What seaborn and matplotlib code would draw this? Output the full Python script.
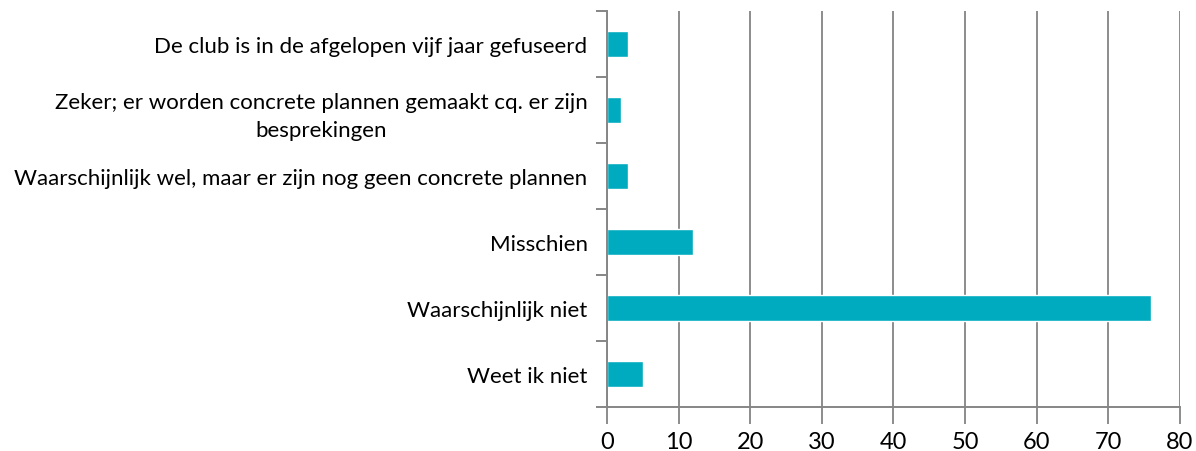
import numpy as np
import matplotlib.pyplot as plt
import seaborn as sns
import pandas as pd

categories = [
    'De club is in de afgelopen vijf jaar gefuseerd',
    'Zeker; er worden concrete plannen gemaakt cq. er zijn\nbesprekingen',
    'Waarschijnlijk wel, maar er zijn nog geen concrete plannen',
    'Misschien',
    'Waarschijnlijk niet',
    'Weet ik niet',
]
values = [3, 2, 3, 12, 76, 5]
x_ticks = [0, 10, 20, 30, 40, 50, 60, 70, 80]

sns.set_style('white')
plt.rcParams['font.family'] = ['Lato', 'DejaVu Sans']
plt.rcParams['text.color'] = 'black'
plt.rcParams['xtick.labelcolor'] = 'black'
plt.rcParams['ytick.labelcolor'] = 'black'

df = pd.DataFrame({'category': categories, 'value': values})

fig = plt.figure(figsize=(11.96, 4.52), dpi=100)
ax = fig.add_axes([0.5075, 0.0973, 0.4791, 0.8757])

sns.barplot(data=df, x='value', y='category', color='#00ABBF', saturation=1,
            width=0.4, ax=ax)

ax.set_xlim(0, 80)
ax.set_ylim(len(categories) - 0.5, -0.5)
ax.set_xticks(x_ticks)
ax.set_xlabel('')
ax.set_ylabel('')

# vertical gridlines
ax.grid(axis='x', color='#8c8c8c', linewidth=1.4)
ax.set_axisbelow(True)

for side in ['top', 'right']:
    ax.spines[side].set_visible(False)
for side in ['left', 'bottom']:
    ax.spines[side].set_color('#868686')
    ax.spines[side].set_linewidth(1.4)

# tick marks between categories, Excel style
ax.set_yticks(np.arange(-0.5, len(categories)), minor=True)
ax.tick_params(axis='y', which='major', length=0, pad=14, labelsize=16)
ax.tick_params(axis='y', which='minor', length=8, width=1.4, color='#868686', left=True)
ax.tick_params(axis='x', which='major', length=12, width=1.4, color='#8c8c8c',
               labelsize=17, pad=5, bottom=True)
for lbl in ax.get_yticklabels():
    lbl.set_multialignment('center')
    lbl.set_linespacing(1.5)

plt.savefig('out.png', dpi=100)
